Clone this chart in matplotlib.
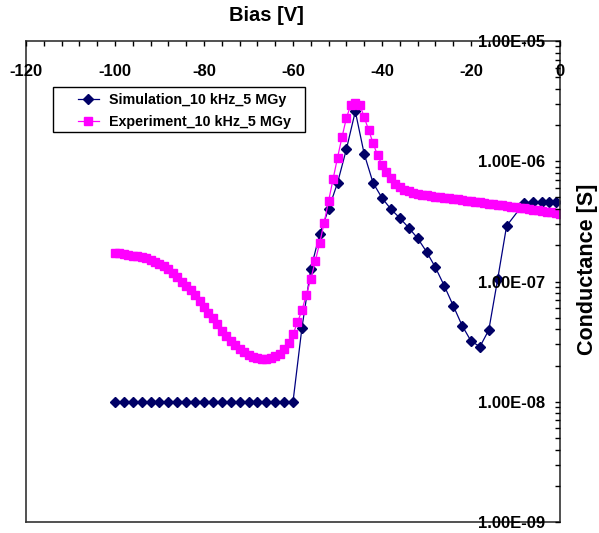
import matplotlib
matplotlib.use('Agg')
import matplotlib.pyplot as plt
from matplotlib.patches import Rectangle
from matplotlib.ticker import MultipleLocator, LogLocator, FuncFormatter, NullFormatter, FixedLocator

plt.rcParams['font.family'] = ['Liberation Sans', 'DejaVu Sans']
plt.rcParams['font.weight'] = 'bold'
plt.rcParams['axes.unicode_minus'] = False

# Simulation_10 kHz_5 MGy
sim_bias = [-100, -98, -96, -94, -92, -90, -88, -86, -84, -82, -80, -78, -76, -74, -72,
            -70, -68, -66, -64, -62, -60,
            -58, -56, -54, -52, -50, -48, -46, -44, -42, -40, -38, -36, -34, -32,
            -30, -28, -26, -24, -22, -20, -18, -16, -14, -12,
            -8, -6, -4, -2.5, -1]
sim_cond = [1.0e-8] * 21 + [
    4.1e-8, 1.27e-7, 2.48e-7, 4.0e-7, 6.6e-7, 1.26e-6, 2.6e-6, 1.15e-6, 6.6e-7, 4.95e-7,
    4.0e-7, 3.37e-7, 2.8e-7, 2.29e-7, 1.77e-7, 1.31e-7, 9.2e-8, 6.3e-8, 4.3e-8, 3.2e-8,
    2.87e-8, 3.95e-8, 1.05e-7, 2.9e-7,
    4.52e-7, 4.55e-7, 4.55e-7, 4.6e-7, 4.6e-7]

# Experiment_10 kHz_5 MGy, one point per volt from -100 to 0
exp_bias = list(range(-100, 1))
exp_cond = [
    1.74e-7, 1.72e-7, 1.69e-7, 1.67e-7, 1.64e-7, 1.62e-7, 1.60e-7, 1.56e-7, 1.52e-7, 1.46e-7,  # -100..-91
    1.40e-7, 1.34e-7, 1.26e-7, 1.175e-7, 1.08e-7, 9.95e-8, 9.2e-8, 8.45e-8, 7.67e-8, 6.92e-8,  # -90..-81
    6.17e-8, 5.52e-8, 4.95e-8, 4.42e-8, 3.89e-8, 3.55e-8, 3.2e-8, 2.95e-8, 2.74e-8, 2.57e-8,  # -80..-71
    2.45e-8, 2.36e-8, 2.29e-8, 2.26e-8, 2.26e-8, 2.30e-8, 2.38e-8, 2.51e-8, 2.75e-8, 3.09e-8,  # -70..-61
    3.63e-8, 4.57e-8, 5.75e-8, 7.76e-8, 1.047e-7, 1.48e-7, 2.09e-7, 3.09e-7, 4.68e-7, 7.08e-7,  # -60..-51
    1.07e-6, 1.58e-6, 2.29e-6, 2.95e-6, 3.05e-6, 2.95e-6, 2.32e-6, 1.82e-6, 1.41e-6, 1.12e-6,  # -50..-41
    9.33e-7, 8.13e-7, 7.24e-7, 6.53e-7, 6.14e-7, 5.82e-7, 5.62e-7, 5.47e-7, 5.37e-7, 5.28e-7,  # -40..-31
    5.21e-7, 5.15e-7, 5.09e-7, 5.04e-7, 4.98e-7, 4.92e-7, 4.86e-7, 4.81e-7, 4.75e-7, 4.70e-7,  # -30..-21
    4.65e-7, 4.59e-7, 4.54e-7, 4.49e-7, 4.44e-7, 4.39e-7, 4.34e-7, 4.29e-7, 4.24e-7, 4.19e-7,  # -20..-11
    4.14e-7, 4.09e-7, 4.05e-7, 4.00e-7, 3.95e-7, 3.91e-7, 3.86e-7, 3.82e-7, 3.77e-7, 3.72e-7,  # -10..-1
    3.66e-7]  # 0

fig = plt.figure(figsize=(5.99, 5.33), dpi=100)
ax = fig.add_axes([0.0434, 0.0206, 0.8915, 0.9025])

ax.plot(sim_bias, sim_cond, color='#000080', lw=0.9, marker='D', ms=5,
        mec='#000066', mfc='#000066', label='Simulation_10 kHz_5 MGy', zorder=2)
ax.plot(exp_bias, exp_cond, color='#FF00FF', lw=0.9, marker='s', ms=6,
        mec='#FF00FF', mfc='#FF00FF', label='Experiment_10 kHz_5 MGy', zorder=2.1)

ax.set_yscale('log')
ax.set_xlim(-120, 0)
ax.set_ylim(1e-9, 1e-5)
ax.set_axisbelow(False)

# x axis on top, labels inside
ax.xaxis.tick_top()
ax.xaxis.set_major_locator(MultipleLocator(20))
ax.xaxis.set_minor_locator(MultipleLocator(4))
ax.tick_params(axis='x', which='both', direction='in', length=3.7, width=1,
               labelsize=12, pad=-16.5, top=True, bottom=False)
for lab in ax.get_xticklabels():
    lab.set_verticalalignment('top')

# y axis on right, labels inside
ax.yaxis.tick_right()
ax.yaxis.set_major_locator(FixedLocator([1e-9, 1e-8, 1e-7, 1e-6, 1e-5]))
ax.yaxis.set_minor_locator(LogLocator(base=10, subs=range(2, 10), numticks=20))
ax.yaxis.set_major_formatter(FuncFormatter(lambda v, p: f"{v:.2E}"))
ax.yaxis.set_minor_formatter(NullFormatter())
ax.tick_params(axis='y', which='both', direction='in', length=3.7, width=1,
               labelsize=12, pad=-10.5, right=True, left=False)
for lab in ax.get_yticklabels():
    lab.set_horizontalalignment('right')

for s in ax.spines.values():
    s.set_linewidth(1.2)
    s.set_color('#333333')

ax.set_xlabel('Bias [V]', fontsize=14.5, fontweight='bold')
ax.xaxis.set_label_position('top')
ax.xaxis.set_label_coords(0.451, 1.052)
ax.xaxis.label.set_verticalalignment('center')

ax.set_ylabel('Conductance [S]', fontsize=15.5, fontweight='bold')
ax.yaxis.set_label_position('right')
ax.yaxis.set_label_coords(1.051, 0.526)
ax.yaxis.label.set_verticalalignment('center')
ax.yaxis.label.set_horizontalalignment('center')

# legend box drawn as its own frame (wider side padding than matplotlib's borderpad)
ax.add_patch(Rectangle((0.0511, 0.810), 0.4714, 0.095, transform=ax.transAxes,
                       facecolor='white', edgecolor='black', lw=1, zorder=3))
leg = ax.legend(loc='upper left', bbox_to_anchor=(0.0974, 0.891), borderaxespad=0,
                fontsize=10.3, frameon=False, handlelength=1.44, handletextpad=0.72,
                borderpad=0, labelspacing=0.55, numpoints=1)
leg.set_zorder(4)

fig.savefig('out.png', dpi=100)
